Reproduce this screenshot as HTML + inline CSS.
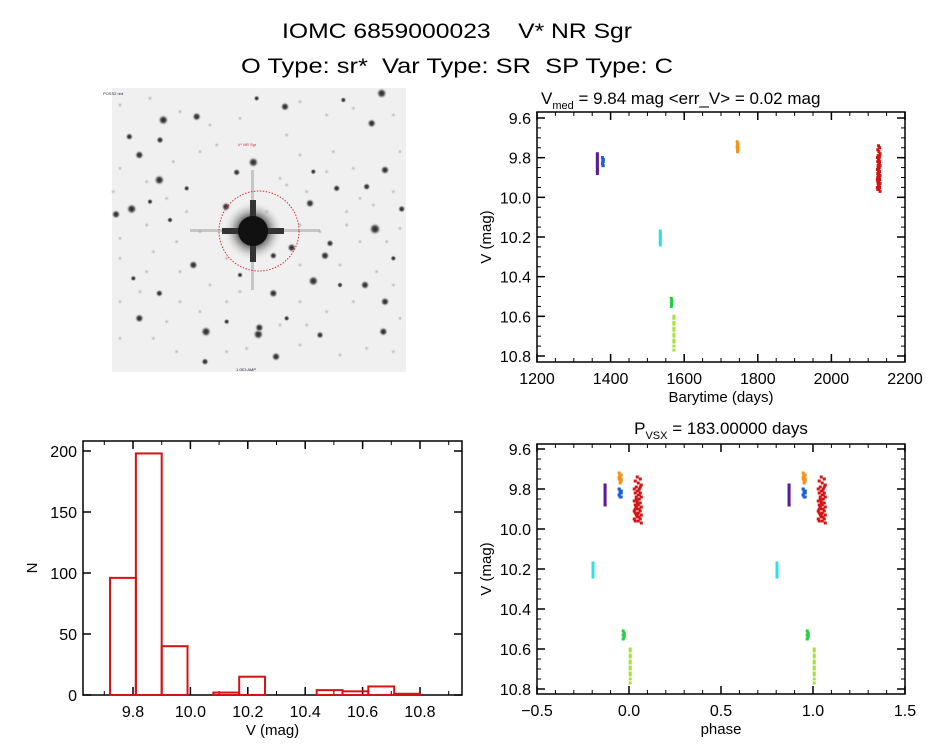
<!DOCTYPE html>
<html><head><meta charset="utf-8"><title>IOMC 6859000023</title>
<style>
html,body{margin:0;padding:0;background:#fff;}
svg{display:block;font-family:"Liberation Sans",sans-serif;}
</style></head>
<body>
<svg id="fig" width="944" height="747" viewBox="0 0 944 747" xmlns="http://www.w3.org/2000/svg">
<rect width="944" height="747" fill="#fff"/>
<text x="282" y="38" font-size="21" fill="#000" style="white-space:pre" textLength="350" lengthAdjust="spacingAndGlyphs">IOMC 6859000023    V* NR Sgr</text>
<text x="241" y="73" font-size="21" fill="#000" style="white-space:pre" textLength="432" lengthAdjust="spacingAndGlyphs">O Type: sr*  Var Type: SR  SP Type: C</text>
<g id="sky"></g>
<g id="lc"></g>
<g id="hist"></g>
<g id="ph"></g>
</svg>
<script>
// ---------- data ----------
const clusterNames = ["purple","blue","cyan","green","lime","orange","red"];
const clusterColors = ["#5a1a9a","#1a5ee0","#30e0e0","#20d040","#a8e040","#f09418","#d41414"];
const clusterTimes = [
 [1364,1364,1364,1364,1364,1364,1364,1364,1364,1364,1364],
 [1378,1380,1379,1378,1380,1379,1378,1380,1379,1378,1379,1380],
 [1535,1535,1535,1535,1535,1535,1535,1535],
 [1565,1566,1565,1566,1565,1566],
 [1572,1572,1572,1572,1572,1572,1572,1572,1572,1572,1572,1572],
 [1744,1746,1745,1744,1746,1745,1744,1746,1745,1745],
 [2128,2131,2126,2129,2132,2127,2130,2125,2128,2131,2126,2129,2132,2127,2130,2128,2125,2131,2126,2129,2132,2127,2130,2128,2125,2131,2126,2129,2132,2127,2130,2128,2125,2131,2126,2129,2132,2127,2130,2128,2131,2126,2129,2128]
];
const clusterMags = [
 [9.78,9.79,9.80,9.81,9.82,9.83,9.84,9.85,9.86,9.87,9.88],
 [9.80,9.81,9.82,9.80,9.81,9.82,9.83,9.84,9.81,9.83,9.84,9.82],
 [10.17,10.18,10.19,10.20,10.21,10.22,10.23,10.24],
 [10.51,10.52,10.53,10.54,10.55,10.53],
 [10.60,10.61,10.63,10.64,10.66,10.67,10.69,10.70,10.72,10.73,10.75,10.77],
 [9.72,9.73,9.74,9.75,9.76,9.77,9.74,9.75,9.73,9.76],
 [9.74,9.75,9.76,9.77,9.78,9.79,9.80,9.80,9.81,9.82,9.82,9.83,9.84,9.84,9.85,9.86,9.86,9.87,9.88,9.88,9.89,9.89,9.90,9.90,9.91,9.91,9.92,9.92,9.93,9.93,9.94,9.94,9.95,9.95,9.96,9.96,9.97,9.85,9.83,9.87,9.79,9.90,9.81,9.93]
];
const histEdges = [9.72,9.81,9.90,9.99,10.08,10.17,10.26,10.35,10.44,10.53,10.62,10.71,10.80];
const histCounts = [96,198,40,0,2,15,0,0,4,3,7,1];
const period = 183.0;
const epoch = 2119.8;
const lcXTicks = [1200,1400,1600,1800,2000,2200];
const magTicks = [9.6,9.8,10.0,10.2,10.4,10.6,10.8];
const histXTicks = [9.8,10.0,10.2,10.4,10.6,10.8];
const histYTicks = [0,50,100,150,200];
const phaseTicks = [-0.5,0,0.5,1.0,1.5];

const NS="http://www.w3.org/2000/svg";
function mk(parent,tag,attrs,txt){const e=document.createElementNS(NS,tag);for(const k in attrs)e.setAttribute(k,attrs[k]);if(txt!==undefined)e.textContent=txt;parent.appendChild(e);return e;}
function lin(d0,d1,r0,r1){return v=>r0+(v-d0)/(d1-d0)*(r1-r0);}

function frame(g,x0,y0,x1,y1,xs,ys,xMaj,xMin,yMaj,yMin,xFmt,yFmt,xlab,ylab){
  const r=mk(g,'rect',{x:x0,y:y0,width:x1-x0,height:y1-y0,fill:'none',stroke:'#000','stroke-width':1.5});
  
  
  xMin.forEach(v=>{const X=xs(v);mk(g,'line',{x1:X,x2:X,y1:y1,y2:y1-4,stroke:'#000'});mk(g,'line',{x1:X,x2:X,y1:y0,y2:y0+4,stroke:'#000'});});
  yMin.forEach(v=>{const Y=ys(v);mk(g,'line',{x1:x0,x2:x0+4,y1:Y,y2:Y,stroke:'#000'});mk(g,'line',{x1:x1,x2:x1-4,y1:Y,y2:Y,stroke:'#000'});});
  xMaj.forEach(v=>{const X=xs(v);mk(g,'line',{x1:X,x2:X,y1:y1,y2:y1-8,stroke:'#000','stroke-width':1.5});mk(g,'line',{x1:X,x2:X,y1:y0,y2:y0+8,stroke:'#000','stroke-width':1.5});
    const t=mk(g,'text',{x:X,y:y1+22,'font-size':16,'text-anchor':'middle'},xFmt(v));
    
    });
  yMaj.forEach(v=>{const Y=ys(v);mk(g,'line',{x1:x0,x2:x0+8,y1:Y,y2:Y,stroke:'#000','stroke-width':1.5});mk(g,'line',{x1:x1,x2:x1-8,y1:Y,y2:Y,stroke:'#000','stroke-width':1.5});
    const t=mk(g,'text',{x:x0-6,y:Y+6,'font-size':16,'text-anchor':'end'},yFmt(v));
    
    });
  const xl=mk(g,'text',{x:(x0+x1)/2,y:y1+40,'font-size':15,'text-anchor':'middle'},xlab);
  
  
  const yl=mk(g,'text',{x:0,y:0,'font-size':15,'text-anchor':'middle',transform:`translate(${x0-46},${(y0+y1)/2}) rotate(-90)`},ylab);
  
  
}
function range(a,b,s){const o=[];for(let v=a;v<=b+1e-9;v+=s)o.push(+v.toFixed(4));return o;}

// ---------- sky image ----------
(function(){
  const g=document.getElementById('sky');
  mk(g,'rect',{x:112,y:88,width:294,height:284,fill:'#f0f0f0'});
  const defs=mk(g,'defs',{});
  const rg=mk(defs,'radialGradient',{id:'st'});
  mk(rg,'stop',{offset:'0','stop-color':'#222'});mk(rg,'stop',{offset:'0.45','stop-color':'#555'});mk(rg,'stop',{offset:'1','stop-color':'#f0f0f0','stop-opacity':0});
  const rg2=mk(defs,'radialGradient',{id:'st2'});
  mk(rg2,'stop',{offset:'0','stop-color':'#aaa'});mk(rg2,'stop',{offset:'1','stop-color':'#f0f0f0','stop-opacity':0});
  const faint=[[60,60],[150,40],[240,80],[330,120],[420,100],[600,50],[680,90],[760,70],[880,90],[60,250],[140,290],[220,230],[300,200],[350,180],[560,150],[600,210],[700,200],[760,250],[900,200],[40,320],[200,340],[260,380],[560,300],[620,320],[680,260],[740,380],[880,320],[60,460],[140,420],[230,470],[300,440],[600,420],[740,420],[780,470],[860,470],[900,430],[60,520],[160,500],[240,560],[330,600],[380,520],[600,540],[720,540],[830,560],[880,600],[60,650],[120,620],[240,650],[300,680],[380,650],[420,620],[600,650],[680,680],[760,650],[900,700],[60,760],[160,760],[230,800],[380,800],[440,790],[600,780],[720,810],[800,790],[880,800],[200,710],[540,720],[620,720],[140,560],[660,440],[500,380],[420,420],[540,280],[820,360],[780,340]];
  faint.forEach(s=>{mk(g,'circle',{cx:100+s[0]/3,cy:85+s[1]/3,r:3,fill:'url(#st2)'});});
  const stars=[[190,105,7],[290,95,6],[555,65,6],[845,25,7],[815,115,6],[178,285,7],[95,372,7],[48,388,6],[460,232,7],[855,255,6],[630,355,6],[378,365,6],[825,432,8],[575,488,6],[520,512,5],[675,512,6],[640,588,7],[520,625,6],[280,540,6],[795,600,6],[855,650,6],[118,700,6],[318,740,7],[475,748,7],[478,728,6],[850,740,6],[528,815,6],[178,625,5],[118,210,6],[88,155,5],[180,165,5],[410,262,5],[710,310,5],[800,305,5],[690,475,5],[660,750,5],[315,830,5],[905,372,5],[730,45,4],[470,40,4],[640,260,4],[260,310,4],[210,405,4],[150,350,4],[720,600,4],[380,710,4],[560,700,4],[880,520,4],[100,580,4],[420,570,4]];
  stars.forEach(s=>{mk(g,'circle',{cx:100+s[0]/3,cy:85+s[1]/3,r:s[2]*0.8,fill:'url(#st)'});});
  mk(g,'rect',{x:190,y:229,width:130,height:3,fill:'#aaa',opacity:0.6});
  mk(g,'rect',{x:251,y:170,width:3,height:120,fill:'#aaa',opacity:0.6});
  mk(g,'circle',{cx:253,cy:231,r:30,fill:'url(#st)'});
  mk(g,'rect',{x:222,y:228,width:62,height:6,fill:'#333'});
  mk(g,'rect',{x:250,y:200,width:6,height:62,fill:'#333'});
  mk(g,'circle',{cx:253,cy:231,r:15,fill:'#111'});
  mk(g,'circle',{cx:259,cy:231,r:40,fill:'none',stroke:'#d03030','stroke-width':1,'stroke-dasharray':'1.5,1.5'});
  mk(g,'text',{x:247,y:146,'font-size':4,fill:'#c03030','text-anchor':'middle'},'V* NR Sgr');
  mk(g,'text',{x:103,y:95,'font-size':4,fill:'#224'},'POSS2 red');
  mk(g,'text',{x:246,y:371,'font-size':4,fill:'#224','text-anchor':'middle'},'1.0E3 AMP');
})();

// ---------- light curve ----------
(function(){
  const g=document.getElementById('lc');
  const x0=537,x1=905,y0=112,y1=362;
  const xs=lin(1200,2200,x0,x1), ys=lin(9.6,10.8,118,356);
  const ti=mk(g,'text',{x:x0+4,y:104,'font-size':17});
  
  
  ti.innerHTML='V<tspan font-size="11" dy="5">med</tspan><tspan dy="-5"> = 9.84 mag &lt;err_V&gt; = 0.02 mag</tspan>';
  frame(g,x0,y0,x1,y1,xs,ys,lcXTicks,range(1200,2200,50),magTicks,range(9.6,10.8,0.05),v=>String(v),v=>v.toFixed(1),'Barytime (days)','V (mag)');
  clusterTimes.forEach((ts,i)=>{ts.forEach((t,j)=>{
    const c=mk(g,'rect',{x:xs(t)-1.5,y:ys(clusterMags[i][j])-1.5,width:3,height:3,fill:clusterColors[i]});
    
    
  });});
})();

// ---------- histogram ----------
(function(){
  const g=document.getElementById('hist');
  const x0=83,x1=462,y0=441,y1=695;
  const xs=lin(9.8,10.8,133,420), ys=lin(0,200,695,451);
  frame(g,x0,y0,x1,y1,xs,ys,histXTicks,range(9.7,10.9,0.1),histYTicks,[],v=>v.toFixed(1),v=>String(v),'V (mag)','N');
  histCounts.forEach((n,i)=>{
    const a=xs(histEdges[i]),b=xs(histEdges[i+1]);
    const r=mk(g,'rect',{x:a,y:ys(n),width:b-a,height:ys(0)-ys(n),fill:'none',stroke:'#d41414','stroke-width':2});
    
    
  });
})();

// ---------- phase plot ----------
(function(){
  const g=document.getElementById('ph');
  const x0=537,x1=905,y0=444,y1=694;
  const xs=lin(-0.5,1.5,x0,x1), ys=lin(9.6,10.8,449,689);
  const ti=mk(g,'text',{x:721,y:434,'font-size':17,'text-anchor':'middle'});
  
  
  ti.innerHTML='P<tspan font-size="11" dy="5">VSX</tspan><tspan dy="-5"> = 183.00000 days</tspan>';
  frame(g,x0,y0,x1,y1,xs,ys,phaseTicks,range(-0.5,1.5,0.1),magTicks,range(9.6,10.8,0.05),v=>v===0?'0.0':v.toFixed(1).replace('-','\u2212'),v=>v.toFixed(1),'phase','V (mag)');
  clusterTimes.forEach((ts,i)=>{ts.forEach((t,j)=>{
    let p=((t-epoch)/period)%1; if(p<0)p+=1; if(p>=0.75)p-=1;
    [p,p+1].forEach(q=>{
      const c=mk(g,'rect',{x:xs(q)-1.5,y:ys(clusterMags[i][j])-1.5,width:3,height:3,fill:clusterColors[i]});
      
      
    });
  });});
})();
</script>
</body></html>
